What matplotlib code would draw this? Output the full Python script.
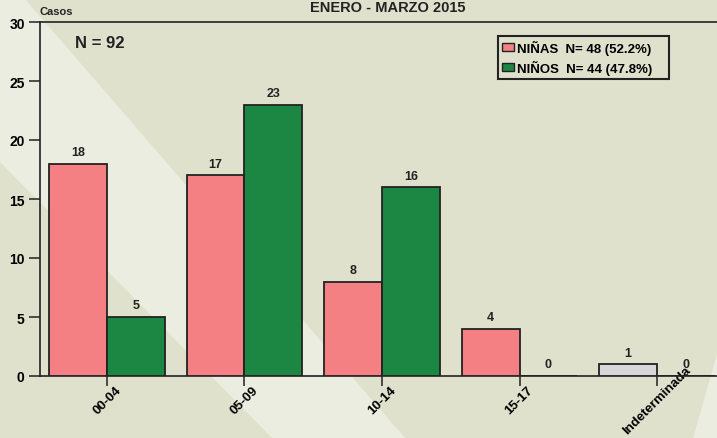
import numpy as np
import matplotlib
matplotlib.use("Agg")
import matplotlib.pyplot as plt
from matplotlib.patches import Polygon, Patch

# datos
categorias = ["00-04", "05-09", "10-14", "15-17", "Indeterminada"]
ninas = [18, 17, 8, 4, 1]
ninos = [5, 23, 16, 0, 0]
etiquetas_leyenda = ["NIÑAS  N= 48 (52.2%)", "NIÑOS  N= 44 (47.8%)"]
titulo = "ENERO - MARZO 2015"
total = "N = 92"

# colores
ROSA = "#f48084"
VERDE = "#1b8743"
GRIS = "#d7d7d9"
FONDO = "#dfe1cc"
FONDO_CLARO = "#eaeddf"
LINEA = "#222222"

plt.rcParams["font.family"] = ["Liberation Sans", "DejaVu Sans"]
plt.rcParams["font.weight"] = "bold"

W, H = 717, 439
fig = plt.figure(figsize=(W / 100, H / 100), dpi=100, facecolor=FONDO)


def px(pts):
    return [(x / W, 1 - y / H) for x, y in pts]


# franjas claras del fondo
for pts in ([(25, 0), (405, 439), (272, 439), (0, 163), (0, 0)],
            [(717, 355), (717, 439), (693, 439)]):
    fig.add_artist(Polygon(px(pts), closed=True, transform=fig.transFigure,
                           facecolor=FONDO_CLARO, edgecolor="none", zorder=-1))

ax = fig.add_axes([40 / W, 1 - 377 / H, 677 / W, 354 / H])
ax.set_facecolor("none")

x = np.arange(len(categorias))
w = 0.42
colores_ninas = [ROSA] * (len(categorias) - 1) + [GRIS]

b1 = ax.bar(x - w / 2, ninas, w, color=colores_ninas, edgecolor=LINEA, linewidth=1.3, zorder=3)
b2 = ax.bar(x + w / 2, ninos, w, color=VERDE, edgecolor=LINEA, linewidth=1.3, zorder=3)

for bars, vals in ((b1, ninas), (b2, ninos)):
    for b, v in zip(bars, vals):
        ax.annotate(str(v), (b.get_x() + b.get_width() / 2, v), xytext=(0, 4),
                    textcoords="offset points", ha="center", va="bottom",
                    fontsize=9, fontweight="bold", color=LINEA)

ax.set_xlim(-0.487, 4.436)
ax.set_ylim(0, 30)
ax.set_yticks(range(0, 31, 5))
ax.set_xticks(x)
ax.set_xticklabels(categorias, rotation=45, ha="center", va="center",
                   fontsize=9.5, fontweight="bold")
ax.tick_params(axis="y", direction="out", length=8, width=1.1, color=LINEA,
               labelsize=10, pad=3)
ax.tick_params(axis="x", direction="out", length=7, width=1.1, color=LINEA, pad=10)

for s in ("left", "bottom", "top"):
    ax.spines[s].set_color(LINEA)
    ax.spines[s].set_linewidth(1.2)
ax.spines["right"].set_visible(False)

handles = [Patch(facecolor=ROSA, edgecolor=LINEA, linewidth=1),
           Patch(facecolor=VERDE, edgecolor=LINEA, linewidth=1)]
leg = ax.legend(handles, etiquetas_leyenda, loc="upper left",
                bbox_to_anchor=(498 / W, 1 - 76 / H, 171 / W, 39 / H),
                bbox_transform=fig.transFigure, mode="expand",
                prop={"size": 9.5, "weight": "bold"},
                handlelength=0.9, handleheight=0.55, handletextpad=0.25,
                borderpad=0.3, borderaxespad=0, labelspacing=0.35,
                fancybox=False, framealpha=1, facecolor="none", edgecolor=LINEA)
leg.get_frame().set_linewidth(1.5)

fig.text(388 / W, 1 - 12 / H, titulo, ha="center", va="baseline",
         fontsize=10.5, fontweight="bold", color=LINEA)
fig.text(39 / W, 1 - 15 / H, "Casos", ha="left", va="baseline",
         fontsize=8, fontweight="bold", color=LINEA)
fig.text(100 / W, 1 - 44 / H, total, ha="center", va="center",
         fontsize=12, fontweight="bold", color=LINEA)

fig.savefig("out.png", dpi=100, facecolor=FONDO)
